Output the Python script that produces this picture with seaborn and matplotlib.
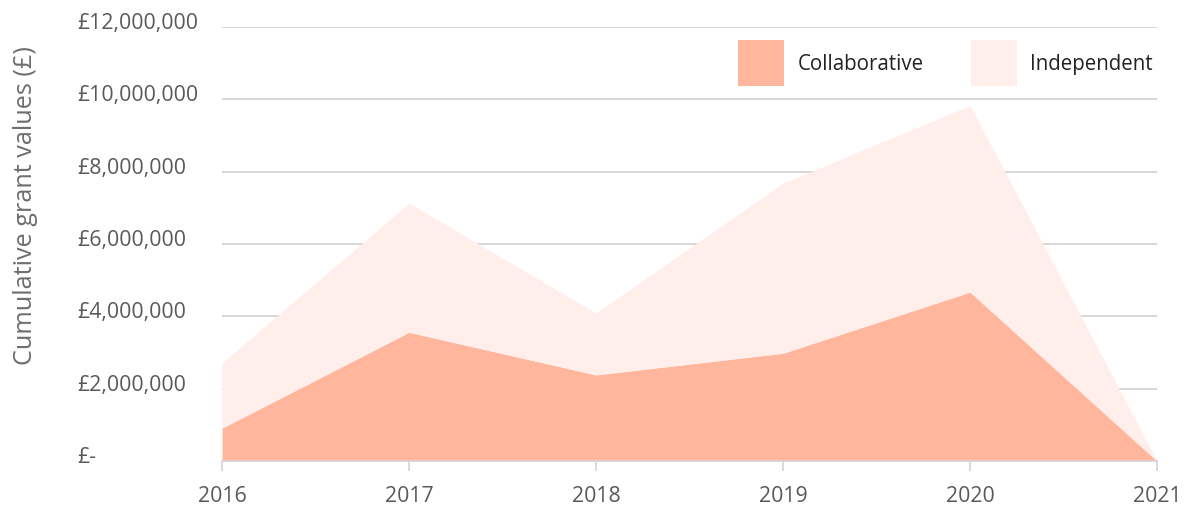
import matplotlib
matplotlib.use('Agg')
import numpy as np
import pandas as pd
import matplotlib.pyplot as plt
import matplotlib.transforms as mtransforms
from matplotlib.patches import Patch
import seaborn as sns

# values (GBP)
years = [2016, 2017, 2018, 2019, 2020, 2021]
collaborative = [910000, 3560000, 2380000, 2980000, 4670000, 0]
independent = [1800000, 3570000, 1710000, 4700000, 5160000, 0]
series_names = ["Collaborative", "Independent"]
y_ticks = [0, 2000000, 4000000, 6000000, 8000000, 10000000, 12000000]

colors = ["#FFB69D", "#FFEEE9"]

df = pd.DataFrame({"Year": years, "Collaborative": collaborative, "Independent": independent})

sns.set_theme(style="white")
plt.rcParams['font.family'] = ['Open Sans', 'DejaVu Sans']

fig = plt.figure(figsize=(11.89, 5.06), dpi=100)
ax = fig.add_axes([222/1189, 1-462/506, (1157-222)/1189, (462-28)/506])

ax.stackplot(df["Year"], df["Collaborative"], df["Independent"], colors=colors,
             linewidth=0, zorder=2)

ax.set_xlim(years[0], years[-1])
ax.set_ylim(0, 12000000)
ax.set_yticks(y_ticks)
ax.set_yticklabels(["£-" if v == 0 else "£{:,.0f}".format(v) for v in y_ticks])
ax.set_xticks(years)
ax.set_xticklabels([str(y) for y in years])

ax.grid(axis="y", color="#cfcfcf", linewidth=1.2, zorder=0)
ax.set_axisbelow(True)
sns.despine(ax=ax, left=True, top=True, right=True)
ax.spines["bottom"].set_color("#d6d6d6")
ax.spines["bottom"].set_linewidth(1.2)

ax.tick_params(axis="y", length=0, pad=104, labelsize=15.3, labelcolor="#595959")
shift = mtransforms.ScaledTranslation(0, 7/100, fig.dpi_scale_trans)
for lab in ax.get_yticklabels():
    lab.set_horizontalalignment("left")
    lab.set_transform(lab.get_transform() + shift)
ax.tick_params(axis="x", length=7, width=1.2, color="#d6d6d6", pad=10,
               labelsize=15.3, labelcolor="#595959", direction="out")
ax.xaxis.set_ticks_position("bottom")

fig.text(26/1189, 1-206/506, "Cumulative grant values (£)", rotation=90,
         ha="center", va="center", fontsize=18.2, color="#6e6e6e")

handles = [Patch(facecolor=c, edgecolor="none") for c in colors]
leg = ax.legend(handles, series_names, ncol=2, frameon=False, loc="upper right",
                bbox_to_anchor=(1153/1189, 1-41/506), bbox_transform=fig.transFigure,
                borderaxespad=0, borderpad=0, handlelength=2.25, handleheight=3.1,
                handletextpad=0.65, columnspacing=2.3, fontsize=14.8)
for t in leg.get_texts():
    t.set_color("#222222")

fig.savefig("out.png", dpi=100)
